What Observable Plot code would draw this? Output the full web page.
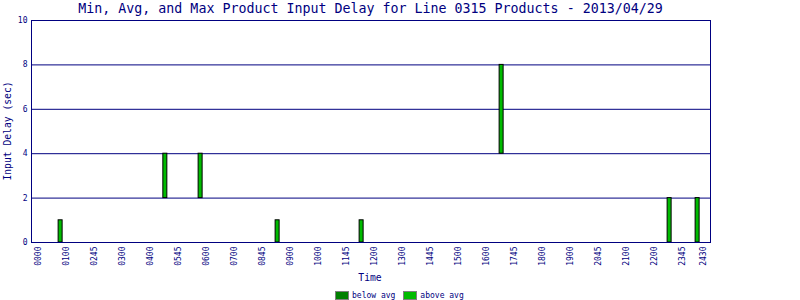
<!DOCTYPE html>
<html><head><meta charset="utf-8">
<script src="https://cdn.jsdelivr.net/npm/d3@7"></script>
<script src="https://cdn.jsdelivr.net/npm/@observablehq/plot@0.6"></script>
<style>
body{margin:0;background:#fff;}
#wrap{position:relative;width:800px;height:300px;font-family:"DejaVu Sans Mono",monospace;color:#000080;overflow:hidden;}
#wrap svg{position:absolute;left:0;top:0;}
.abs{position:absolute;white-space:nowrap;line-height:1;}
#title{left:31px;width:679px;top:2px;text-align:center;font-size:13.3px;}
#ylab{left:8px;top:131px;font-size:9.7px;transform:translate(-50%,-50%) rotate(-90deg);}
#xlab{left:370px;top:278px;font-size:9.7px;transform:translate(-50%,-50%);}
#legend{left:335px;top:291px;font-size:8px;display:flex;align-items:center;}
.sw{display:inline-block;width:12px;height:7px;border:1px solid #808080;margin-right:3px;}
.item{display:flex;align-items:center;margin-right:8px;}
</style></head><body><div id="wrap"></div>
<script>
const title = "Min, Avg, and Max Product Input Delay for Line 0315 Products - 2013/04/29";
const yLabel = "Input Delay (sec)";
const xLabel = "Time";
const tickLabels = ["0000","0100","0245","0300","0400","0545","0600","0700","0845","0900","1000","1145","1200","1300","1445","1500","1600","1745","1800","1900","2045","2100","2200","2345","2430"];
const tickPositions = [0,1,2,3,4,5,6,7,8,9,10,11,12,13,14,15,16,17,18,19,20,21,22,23,23.77];
const yTicks = [0,2,4,6,8,10];
const barTimes = [0.80,4.54,5.80,8.55,11.55,16.55,22.55,23.55];
const minDelay = [0,2,2,0,0,4,0,0];
const avgDelay = [0,2,2,0,0,4,0,0];
const maxDelay = [1,4,4,1,1,8,2,2];
const seriesNames = ["below avg","above avg"];
const seriesColors = ["#008000","#00bb00"];

const data = barTimes.map((t,i)=>({t, min:minDelay[i], avg:avgDelay[i], max:maxDelay[i]}));
const navy = "#000080";

const chart = Plot.plot({
  width: 800, height: 300,
  marginLeft: 31, marginRight: 90, marginTop: 20, marginBottom: 58,
  style: {fontFamily: "DejaVu Sans Mono, monospace", fontSize: "8px", color: navy, background: "transparent"},
  x: {domain: [-0.24, 24.01]},
  y: {domain: [0, 10]},
  marks: [
    Plot.ruleY(yTicks, {stroke: navy}),
    Plot.rect(data.filter(d=>d.avg>d.min), {x1:"t", x2:"t", y1:"min", y2:"avg", fill: seriesColors[0], stroke:"black", insetLeft:-2, insetRight:-2}),
    Plot.rect(data.filter(d=>d.max>d.avg), {x1:"t", x2:"t", y1:"avg", y2:"max", fill: seriesColors[1], stroke:"black", insetLeft:-2, insetRight:-2}),
    Plot.frame({stroke: navy}),
    Plot.axisY({ticks: yTicks, tickSize: 0, tickPadding: 4, label: null, fontSize: 8}),
    Plot.axisX({ticks: tickPositions, tickFormat: (d)=>tickLabels[tickPositions.indexOf(d)], tickRotate: -90, tickSize: 0, tickPadding: 4, label: null, fontSize: 8})
  ]
});
const wrap = document.getElementById("wrap");
wrap.appendChild(chart);
function addDiv(id, text){const d=document.createElement("div");d.className="abs";d.id=id;d.textContent=text;wrap.appendChild(d);return d;}
addDiv("title", title);
addDiv("ylab", yLabel);
addDiv("xlab", xLabel);
const leg = addDiv("legend", "");
seriesNames.forEach((n,i)=>{
  const it=document.createElement("span");it.className="item";
  const sw=document.createElement("span");sw.className="sw";sw.style.background=seriesColors[i];
  const tx=document.createElement("span");tx.textContent=n;
  it.appendChild(sw);it.appendChild(tx);leg.appendChild(it);
});
</script></body></html>
